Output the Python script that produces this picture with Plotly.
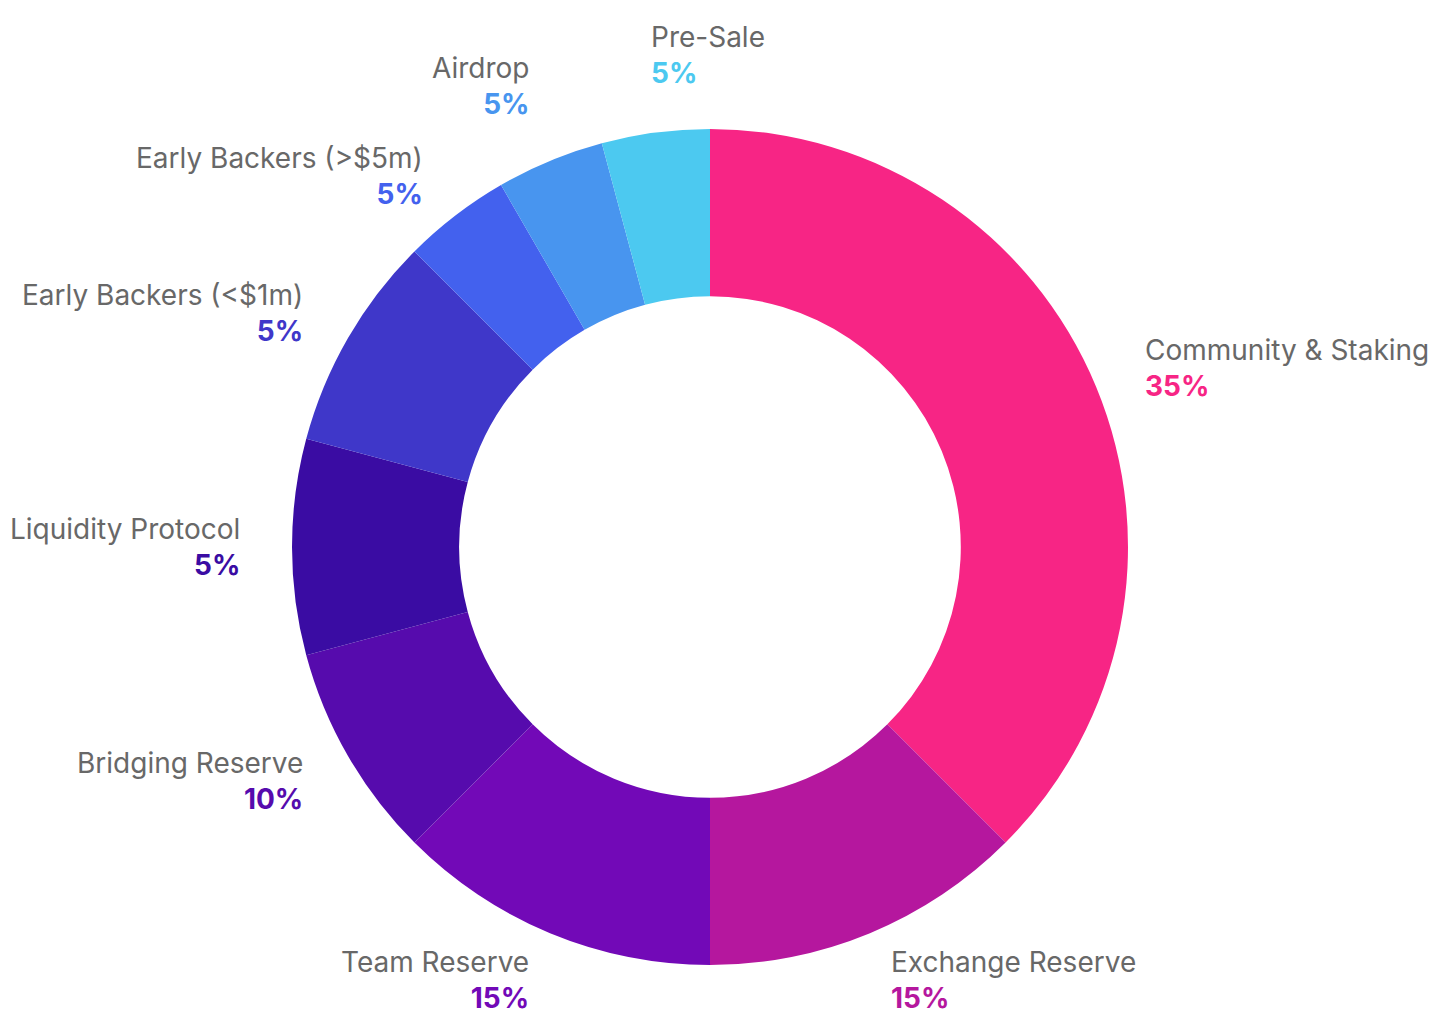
import math
import plotly.graph_objects as go

categories = ["Community & Staking", "Exchange Reserve", "Team Reserve", "Bridging Reserve",
              "Liquidity Protocol", "Early Backers (<$1m)", "Early Backers (>$5m)", "Airdrop", "Pre-Sale"]
slice_sizes = [9, 3, 3, 2, 2, 2, 1, 1, 1]
pct_labels = ["35%", "15%", "15%", "10%", "5%", "5%", "5%", "5%", "5%"]
colors = ["#F72585", "#B5179E", "#7209B7", "#560BAD", "#3A0CA3", "#3F37C9", "#4361EE", "#4895EF", "#4CC9F0"]

# figure sits inside the page body (8px default margin)
W, H = 1437, 1012
M = dict(l=92, r=125, t=121, b=55)
plot_w = W - M["l"] - M["r"]
plot_h = H - M["t"] - M["b"]
radius_px = min(plot_w, plot_h) / 2
label_r_px = radius_px * 1.12
font_size = 28

fig = go.Figure(go.Pie(
    labels=categories,
    values=slice_sizes,
    textinfo="none",
    hole=0.6,
    sort=False,
    direction="clockwise",
    rotation=0,
    marker=dict(colors=colors, line=dict(width=0)),
    showlegend=False,
    domain=dict(x=[0, 1], y=[0, 1]),
    hoverinfo="label",
))

total = sum(slice_sizes)
cum = 0
annotations = []
for cat, val, pct, col in zip(categories, slice_sizes, pct_labels, colors):
    mid = (cum + val / 2) / total * 2 * math.pi
    cum += val
    dx = math.sin(mid) * label_r_px
    dy = math.cos(mid) * label_r_px
    right_side = dx >= -0.15 * radius_px
    near_top = math.cos(mid) > 0.9
    annotations.append(dict(
        x=0.5 + dx / plot_w, y=0.5 + dy / plot_h,
        xref="paper", yref="paper",
        text=f"{cat}<br><b><span style='color:{col}'>{pct}</span></b>",
        showarrow=False,
        xanchor="left" if right_side else "right",
        yanchor="middle",
        yshift=font_size if near_top else 0,
        align="left" if right_side else "right",
        font=dict(family="Inter", size=font_size, color="#686868"),
    ))

fig.update_layout(
    width=W, height=H,
    margin=M,
    paper_bgcolor="white", plot_bgcolor="white",
    annotations=annotations,
)
fig.write_html("out.html")
